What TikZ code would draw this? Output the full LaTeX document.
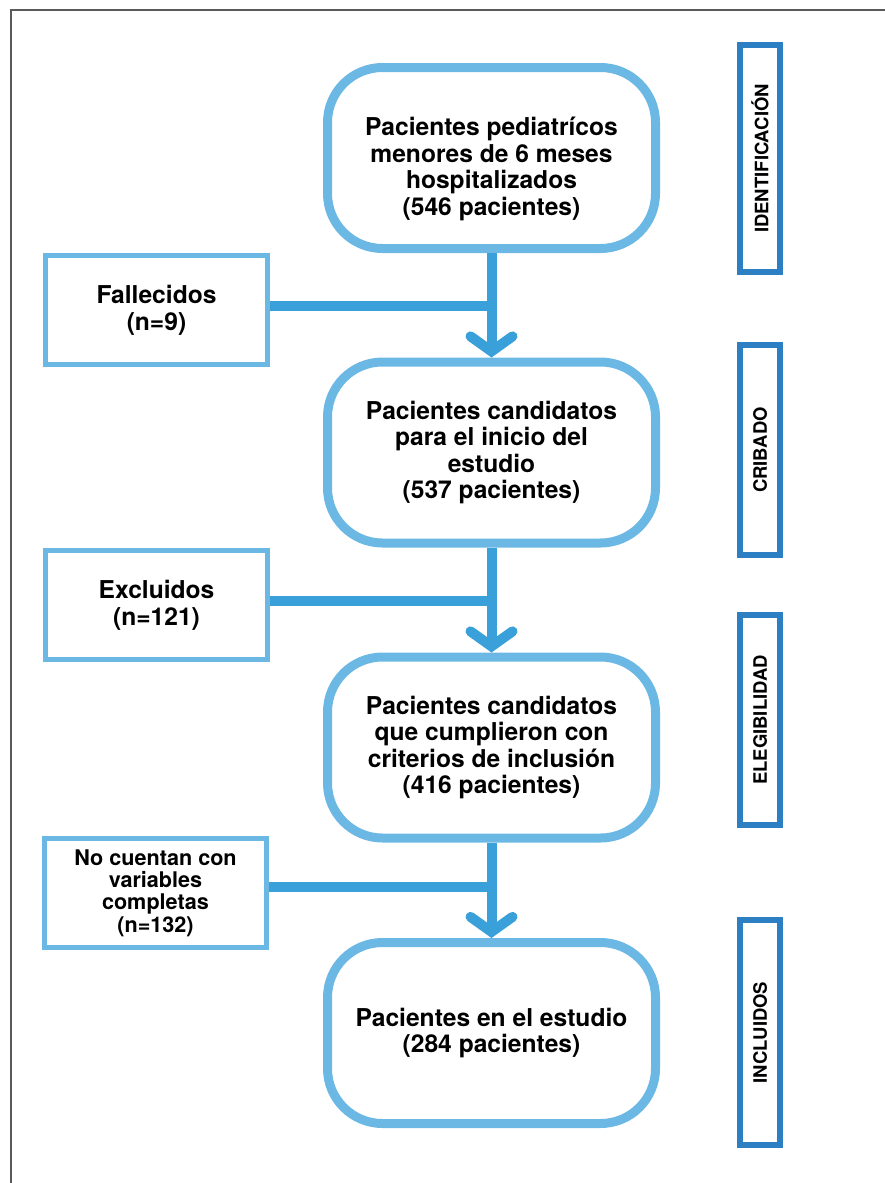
\documentclass[tikz,border=0pt]{standalone}
\usepackage{fontspec}
\setmainfont{TeX Gyre Heros}
\usetikzlibrary{arrows.meta}
\definecolor{boxblue}{RGB}{108,184,228}
\definecolor{linkblue}{RGB}{58,160,218}
\definecolor{sideblue}{RGB}{45,127,195}
\definecolor{framegray}{RGB}{90,90,90}

\begin{document}
\begin{tikzpicture}[x=1pt,y=-1pt,
	mainbox/.style={draw=boxblue, line width=9pt, rounded corners=55pt,
		minimum width=328pt, minimum height=181pt, align=center,
		font={\fontsize{24.6}{26.5}\selectfont\bfseries}},
	outbox/.style={draw=boxblue, line width=5pt, minimum width=222pt,
		minimum height=109pt, align=center,
		font={\fontsize{24.6}{27}\selectfont\bfseries}},
	stage/.style={draw=sideblue, line width=6pt, rotate=90, minimum height=40pt,
		font={\fontsize{18.5}{19}\selectfont\bfseries}},
	flow/.style={draw=linkblue, line width=10pt,
		-{Straight Barb[length=15pt,width=42pt,line cap=round]}},
	link/.style={draw=linkblue, line width=10pt}]
\useasboundingbox (0,0) rectangle (885,1183);
\draw[framegray, line width=2pt] (11,1183) -- (11,10) -- (885,10);

% main flow
\node[mainbox] (b1) at (491.5,158) {\rule{0pt}{40pt}Pacientes pediatrícos\\menores de 6 meses\\hospitalizados\\(546 pacientes)};
\node[mainbox] (b2) at (491.5,452.5) {Pacientes candidatos\\para el inicio del\\estudio\\(537 pacientes)};
\node[mainbox] (b3) at (491.5,747.5) {Pacientes candidatos\\que cumplieron con\\criterios de inclusión\\(416 pacientes)};
\node[mainbox] (b4) at (491.5,1033) {Pacientes en el estudio\\(284 pacientes)};

% left side
\node[outbox] (fall) at (156.5,310) {Fallecidos\\(n=9)};
\node[outbox] (excl) at (156.5,605) {Excluidos\\(n=121)};
\node[outbox, font={\fontsize{21.6}{22.3}\selectfont\bfseries}] (incomp) at (155.5,893) {No cuentan con\\variables\\completas\\(n=132)};

% stages
\node[stage, minimum width=227pt] (s1) at (760,158.5) {IDENTIFICACIÓN};
\node[stage, minimum width=210pt] (s2) at (760,450) {CRIBADO};
\node[stage, minimum width=210pt] (s3) at (760,720) {ELEGIBILIDAD};
\node[stage, minimum width=225pt] (s4) at (760,1032.5) {INCLUIDOS};

\draw[flow] (b1) -- (b2);
\draw[flow] (b2) -- (b3);
\draw[flow] (b3) -- (b4);
\draw[link] ([yshift=4pt]fall.east) -- ([yshift=4pt]fall.east -| b1.south);
\draw[link] ([yshift=4pt]excl.east) -- ([yshift=4pt]excl.east -| b2.south);
\draw[link] ([yshift=6pt]incomp.east) -- ([yshift=6pt]incomp.east -| b3.south);
\end{tikzpicture}
\end{document}
